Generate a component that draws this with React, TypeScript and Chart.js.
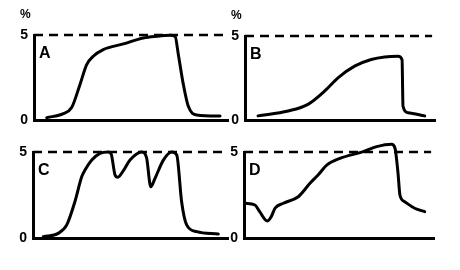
import React, { useEffect, useRef } from "react";
import { Chart, registerables } from "chart.js";

Chart.register(...registerables);

// ---- data (x in relative time units 0..100, y in %) ----
const timeA = [6.6, 15.2, 19.5, 23.8, 27.3, 30.7, 35.9, 46.3, 56.6, 63.7, 70.5, 73.1, 74.8, 77.4, 79.9, 84.3, 96.4];
const valueA = [0.17, 0.41, 0.76, 2.1, 3.27, 3.76, 4.15, 4.48, 4.83, 4.93, 4.98, 4.92, 3.85, 2.1, 0.85, 0.33, 0.27];

const timeB = [6.9, 22.8, 33.3, 42.2, 49.2, 58.0, 66.8, 73.9, 81.0, 83.1, 83.6, 86.2, 95.1];
const valueB = [0.28, 0.57, 0.96, 1.75, 2.53, 3.22, 3.61, 3.76, 3.8, 3.6, 0.86, 0.47, 0.28];

const timeC = [5.3, 13.0, 17.4, 21.6, 25.1, 26.8, 30.3, 34.5, 38.8, 40.3, 42.3, 43.7, 46.5, 50.0, 56.0, 58.5, 60.7, 62.9, 67.2, 71.5, 74.1, 76.6, 79.2, 84.4, 95.5];
const valueC = [0.08, 0.27, 0.76, 2.11, 3.56, 3.95, 4.53, 4.92, 5.0, 4.88, 3.66, 3.53, 3.9, 4.53, 5.0, 4.69, 2.98, 3.47, 4.53, 5.0, 4.83, 2.11, 0.76, 0.37, 0.23];

const timeD = [0.5, 5.8, 8.3, 12.3, 14.4, 16.4, 20.8, 28.7, 34.9, 39.2, 43.8, 50.8, 63.1, 70.2, 78.1, 79.9, 81.5, 82.5, 85.0, 90.3, 95.6];
const valueD = [2.02, 1.92, 1.53, 0.99, 1.24, 1.73, 2.02, 2.4, 3.18, 3.66, 4.24, 4.63, 5.02, 5.31, 5.45, 5.22, 3.76, 2.5, 2.11, 1.73, 1.53];

const yTickValues = [0, 5];
const dashLevel = 5;
const dashSpan = [0, 99];
const unitLabel = "%";
const panelLetters = ["A", "B", "C", "D"];

// ---- layout (page pixels) ----
type Frame = { left: number; top: number; width: number; height: number; l: number; t: number; r: number; b: number };
const frames: Frame[] = [
  { left: 0, top: 0, width: 232, height: 135, l: 34, t: 35, r: 227, b: 121 },
  { left: 224, top: 0, width: 236, height: 135, l: 245, t: 36, r: 434, b: 121 },
  { left: 0, top: 135, width: 232, height: 135, l: 33, t: 152, r: 227, b: 238 },
  { left: 224, top: 135, width: 236, height: 135, l: 244, t: 152, r: 433, b: 238 },
];
const showUnit = [true, true, false, false];
const series = [
  [timeA, valueA],
  [timeB, valueB],
  [timeC, valueC],
  [timeD, valueD],
];

const FONT = '"Liberation Sans", Arial, Helvetica, sans-serif';

const panelTextPlugin = {
  id: "panelText",
  afterDraw(chart: any, _args: any, opts: any) {
    const { ctx, chartArea } = chart;
    ctx.save();
    ctx.fillStyle = "#000";
    ctx.textAlign = "left";
    ctx.textBaseline = "alphabetic";
    ctx.font = `bold 16px ${FONT}`;
    ctx.fillText(opts.letter, chartArea.left + 5, chartArea.top + 23);
    if (opts.unit) {
      ctx.font = `bold 12px ${FONT}`;
      ctx.fillText(opts.unit, chartArea.left - 14, chartArea.top - 17);
    }
    ctx.restore();
  },
};

function Panel({ index }: { index: number }) {
  const ref = useRef<HTMLCanvasElement | null>(null);
  const f = frames[index];
  useEffect(() => {
    if (!ref.current) return;
    const [xs, ys] = series[index];
    const chart = new Chart(ref.current, {
      type: "line",
      data: {
        datasets: [
          {
            data: dashSpan.map((x) => ({ x, y: dashLevel })),
            borderColor: "#000",
            borderWidth: 2.5,
            borderDash: [9, 6],
            pointRadius: 0,
            clip: false as any,
          },
          {
            data: xs.map((x, i) => ({ x, y: ys[i] })),
            borderColor: "#000",
            borderWidth: 3,
            pointRadius: 0,
            cubicInterpolationMode: "monotone",
            borderCapStyle: "round",
            borderJoinStyle: "round",
            clip: false as any,
          },
        ],
      },
      options: {
        animation: false,
        responsive: false,
        maintainAspectRatio: false,
        events: [],
        layout: {
          padding: {
            left: 0,
            top: f.t - f.top,
            right: f.left + f.width - f.r,
            bottom: 0,
          },
        },
        plugins: {
          legend: { display: false },
          tooltip: { enabled: false },
          title: { display: false },
          panelText: { letter: panelLetters[index], unit: showUnit[index] ? unitLabel : "" },
        } as any,
        scales: {
          x: {
            type: "linear",
            min: 0,
            max: 100,
            grid: { display: false, drawTicks: false, lineWidth: 3 },
            border: { display: true, color: "#000", width: 3 },
            ticks: { display: false },
            afterFit: (s: any) => {
              s.height = f.top + f.height - f.b;
            },
          },
          y: {
            type: "linear",
            min: 0,
            max: 5,
            grid: { display: false, drawTicks: false, lineWidth: 3 },
            border: { display: true, color: "#000", width: 3 },
            afterBuildTicks: (s: any) => {
              s.ticks = yTickValues.map((v) => ({ value: v }));
            },
            ticks: {
              color: "#000",
              padding: 6,
              font: { family: FONT, size: 14, weight: "bold" },
            },
            afterFit: (s: any) => {
              s.width = f.l - f.left;
            },
          },
        },
      },
      plugins: [panelTextPlugin],
    } as any);
    return () => chart.destroy();
  }, [index]);
  return (
    <canvas
      ref={ref}
      width={f.width}
      height={f.height}
      style={{ position: "absolute", left: f.left, top: f.top, width: f.width, height: f.height }}
    />
  );
}

export default function App() {
  return (
    <div style={{ position: "fixed", left: 0, top: 0, width: 460, height: 270, background: "#fff", overflow: "hidden" }}>
      {frames.map((_, i) => (
        <Panel key={i} index={i} />
      ))}
    </div>
  );
}
